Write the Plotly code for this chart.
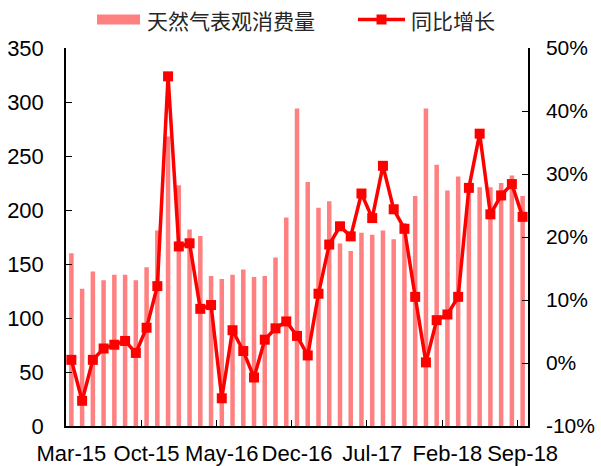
import plotly.graph_objects as go

months = ["Mar-15", "Apr-15", "May-15", "Jun-15", "Jul-15", "Aug-15", "Sep-15", "Oct-15",
          "Nov-15", "Dec-15", "Jan-16", "Feb-16", "Mar-16", "Apr-16", "May-16", "Jun-16",
          "Jul-16", "Aug-16", "Sep-16", "Oct-16", "Nov-16", "Dec-16", "Jan-17", "Feb-17",
          "Mar-17", "Apr-17", "May-17", "Jun-17", "Jul-17", "Aug-17", "Sep-17", "Oct-17",
          "Nov-17", "Dec-17", "Jan-18", "Feb-18", "Mar-18", "Apr-18", "May-18", "Jun-18",
          "Jul-18", "Aug-18", "Sep-18"]

consumption = [160, 127, 143, 135, 140, 140, 135, 147, 181, 268,
               223, 182, 176, 139, 136, 140, 145, 138, 139, 156,
               193, 294, 226, 202, 208, 169, 162, 179, 177, 181,
               173, 188, 213, 294, 242, 218, 231, 221, 221, 221,
               225, 232, 213]

growth = [0.5, -6.0, 0.5, 2.3, 2.9, 3.5, 1.6, 5.6, 12.2, 45.5,
          18.5, 19.0, 8.6, 9.2, -5.6, 5.2, 1.9, -2.3, 3.7, 5.5,
          6.6, 4.3, 1.2, 11.0, 18.8, 21.7, 20.1, 26.9, 23.0, 31.3,
          24.4, 21.3, 10.5, 0.1, 6.8, 7.7, 10.5, 27.8, 36.4, 23.6,
          26.6, 28.4, 23.2]

left_ticks = [0, 50, 100, 150, 200, 250, 300, 350]
right_ticks = [-10, 0, 10, 20, 30, 40, 50]
right_labels = [f"{v}%" for v in right_ticks]
label_step = 7

bar_name = "天然气表观消费量"
line_name = "同比增长"

BAR_COLOR = "#FF8080"
LINE_COLOR = "#FF0000"
TICK_FONT = dict(family="Liberation Sans, Arial", size=22, color="#000000")
RIGHT_FONT = dict(family="Liberation Sans, Arial", size=21, color="#000000")
LEG_FONT = dict(family="Noto Sans CJK SC", size=21, color="#262626")

idx = list(range(len(months)))
label_pos = idx[::label_step]
label_txt = months[::label_step]
boundary_pos = [p - 0.5 for p in label_pos[1:]]

fig = go.Figure()
fig.add_trace(go.Bar(x=idx, y=consumption, name=bar_name, marker_color=BAR_COLOR,
                     marker_line_width=0, yaxis="y", showlegend=False))
fig.add_trace(go.Scatter(x=idx, y=growth, name=line_name, mode="lines+markers",
                         line=dict(color=LINE_COLOR, width=3.5),
                         marker=dict(symbol="square", size=10, color=LINE_COLOR),
                         yaxis="y2", showlegend=False))

# plot area geometry (pixels)
W, H = 601, 466
ml, mr, mt, mb = 66, 73, 48, 40
pw, ph = W - ml - mr, H - mt - mb


def px_x(x):
    return (x - ml) / pw


def px_y(y):
    return (H - mb - y) / ph


shapes = [
    dict(type="rect", xref="paper", yref="paper", x0=px_x(97), x1=px_x(140),
         y0=px_y(24.5), y1=px_y(14.5), fillcolor=BAR_COLOR, line_width=0),
    dict(type="line", xref="paper", yref="paper", x0=px_x(358), x1=px_x(405),
         y0=px_y(19.5), y1=px_y(19.5), line=dict(color=LINE_COLOR, width=3.5)),
    dict(type="rect", xref="paper", yref="paper", x0=px_x(376.5), x1=px_x(386.5),
         y0=px_y(24.5), y1=px_y(14.5), fillcolor=LINE_COLOR, line_width=0),
]
annotations = [
    dict(text=bar_name, xref="paper", yref="paper", x=px_x(145), y=px_y(20),
         xanchor="left", yanchor="middle", showarrow=False, font=LEG_FONT),
    dict(text=line_name, xref="paper", yref="paper", x=px_x(409), y=px_y(20),
         xanchor="left", yanchor="middle", showarrow=False, font=LEG_FONT),
]

fig.update_layout(
    width=W, height=H, autosize=False,
    margin=dict(l=ml, r=mr, t=mt, b=mb, pad=0, autoexpand=False),
    plot_bgcolor="white", paper_bgcolor="white",
    bargap=0.58,
    shapes=shapes, annotations=annotations,
    xaxis=dict(type="linear", range=[-0.5, len(months) - 0.5], automargin=False,
               tickvals=label_pos, ticktext=label_txt, ticks="",
               tickfont=TICK_FONT, ticklabelstandoff=7,
               showline=True, linecolor="#000000", linewidth=1.5,
               showgrid=False, zeroline=False,
               minor=dict(tickvals=boundary_pos, ticks="inside", ticklen=6,
                          tickcolor="#000000", tickwidth=1.3, showgrid=False)),
    yaxis=dict(range=[0, 350], tickvals=left_ticks, ticks="inside", ticklen=6,
               automargin=False,
               tickcolor="#000000", tickwidth=1.3, tickfont=TICK_FONT,
               ticklabelstandoff=16,
               showline=True, linecolor="#000000", linewidth=1.5,
               showgrid=False, zeroline=False),
    yaxis2=dict(range=[-10, 50], tickvals=right_ticks, ticktext=right_labels,
                overlaying="y", side="right", anchor="x", automargin=False,
                ticks="inside", ticklen=6, tickcolor="#000000", tickwidth=1.3,
                tickfont=RIGHT_FONT, ticklabelstandoff=12,
                showline=True, linecolor="#000000", linewidth=1.5,
                showgrid=False, zeroline=False),
)

fig.write_html("out.html", config={"displayModeBar": False},
               post_script="document.body.style.margin='0';")
